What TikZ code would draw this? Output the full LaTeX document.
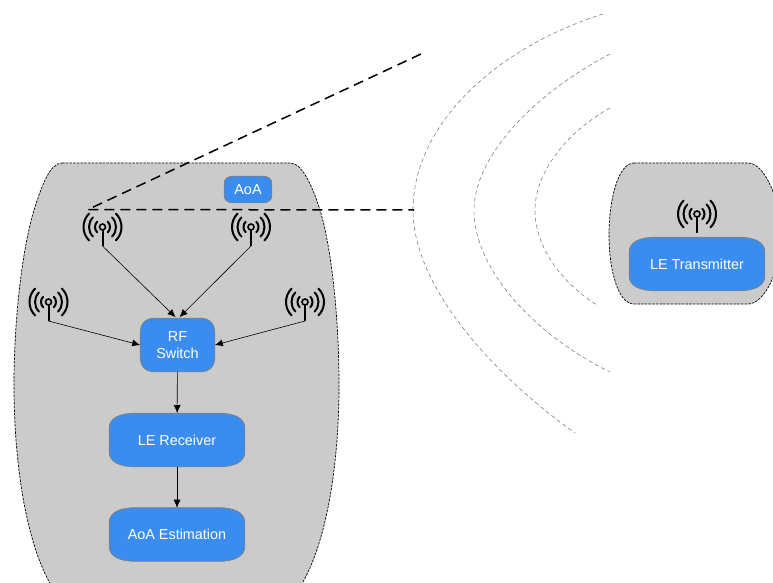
\documentclass[tikz,border=0pt]{standalone}
\usepackage{fontspec}
\setmainfont{Liberation Sans}
\usetikzlibrary{arrows.meta}
\definecolor{panelgray}{HTML}{CBCBCB}
\definecolor{boxblue}{HTML}{3A8DEE}
\newdimen\sbxl \newdimen\sbyl \newdimen\sbxh \newdimen\sbyh \newdimen\sba \newdimen\sbb
\makeatletter
\pgfdeclareshape{softbox}{
  \inheritsavedanchors[from=rectangle]
  \inheritanchorborder[from=rectangle]
  \inheritanchor[from=rectangle]{center}
  \inheritanchor[from=rectangle]{north}
  \inheritanchor[from=rectangle]{south}
  \inheritanchor[from=rectangle]{east}
  \inheritanchor[from=rectangle]{west}
  \backgroundpath{
    \southwest \sbxl=\pgf@x \sbyl=\pgf@y
    \northeast \sbxh=\pgf@x \sbyh=\pgf@y
    \sba=\sbxh \advance\sba by -\sbxl \sba=0.2\sba
    \sbb=\sbyh \advance\sbb by -\sbyl \sbb=0.28\sbb
    \pgfpathmoveto{\pgfpoint{\sbxl}{\sbyl+\sbb}}
    \pgfpathlineto{\pgfpoint{\sbxl}{\sbyh-\sbb}}
    \pgfpathcurveto{\pgfpoint{\sbxl}{\sbyh-0.3\sbb}}{\pgfpoint{\sbxl+0.4\sba}{\sbyh}}{\pgfpoint{\sbxl+\sba}{\sbyh}}
    \pgfpathlineto{\pgfpoint{\sbxh-\sba}{\sbyh}}
    \pgfpathcurveto{\pgfpoint{\sbxh-0.4\sba}{\sbyh}}{\pgfpoint{\sbxh}{\sbyh-0.3\sbb}}{\pgfpoint{\sbxh}{\sbyh-\sbb}}
    \pgfpathlineto{\pgfpoint{\sbxh}{\sbyl+\sbb}}
    \pgfpathcurveto{\pgfpoint{\sbxh}{\sbyl+0.3\sbb}}{\pgfpoint{\sbxh-0.4\sba}{\sbyl}}{\pgfpoint{\sbxh-\sba}{\sbyl}}
    \pgfpathlineto{\pgfpoint{\sbxl+\sba}{\sbyl}}
    \pgfpathcurveto{\pgfpoint{\sbxl+0.4\sba}{\sbyl}}{\pgfpoint{\sbxl}{\sbyl+0.3\sbb}}{\pgfpoint{\sbxl}{\sbyl+\sbb}}
    \pgfpathclose
  }
}
\makeatother
\begin{document}
\begin{tikzpicture}
  [
    x=1pt, y=-1pt,
    panel/.style={fill=panelgray, draw=black, dash pattern=on 2.5pt off 1.2pt, line width=0.7pt},
    box/.style={shape=softbox, draw=gray, fill=boxblue, text=white, font=\fontsize{14.4}{17}\selectfont,
      align=center, inner sep=0pt, line width=0.7pt,
      minimum width=135pt, minimum height=53pt},
    ld/.style={draw=black, line width=0.6pt, -{Latex[length=8pt,width=7pt]}},
    beam/.style={draw=black, line width=1.5pt, dash pattern=on 10pt off 6pt},
    wave/.style={draw=gray, line width=0.6pt, dash pattern=on 4pt off 3pt},
    antenna/.pic={
      \foreach \r in {7.5,13.5,19} {
        \draw [line width=2pt, line cap=round] (45:\r pt) arc [start angle=45, end angle=-45, radius=\r pt];
        \draw [line width=2pt, line cap=round] (135:\r pt) arc [start angle=135, end angle=225, radius=\r pt];
      }
      \draw [line width=1.6pt] (0,0) circle [radius=3pt];
      \draw [line width=2pt] (0,3) -- (0,19);
      \coordinate (-foot) at (0,19);
    }
  ]
  \useasboundingbox (0,0) rectangle (773,583);

  % receiver panel
  \draw [panel] (62,163) -- (290,163)
    .. controls (302,163) and (312,185) .. (320,210)
    .. controls (332,250) and (339,320) .. (339,385)
    .. controls (339,470) and (325,550) .. (298,590)
    -- (54,590)
    .. controls (28,550) and (14,470) .. (14,385)
    .. controls (14,320) and (22,250) .. (34,210)
    .. controls (42,185) and (50,163) .. (62,163);

  % transmitter panel
  \draw [panel] (634,163) -- (748,163)
    .. controls (765,163) and (780,200) .. (782,235)
    .. controls (780,270) and (765,304) .. (748,304)
    -- (634,304)
    .. controls (618,304) and (609,270) .. (609,235)
    .. controls (609,200) and (618,163) .. (634,163);

  % wave fronts
  \coordinate (w1a) at (603,14);  \coordinate (w1b) at (413,210);  \coordinate (w1c) at (575,433);
  \coordinate (w2a) at (610,54);  \coordinate (w2b) at (474,210);  \coordinate (w2c) at (610,372);
  \coordinate (w3a) at (610,108); \coordinate (w3b) at (535,210);  \coordinate (w3c) at (597,305);
  \draw [wave] (w1a) .. controls (495,48) and (413,125) .. (w1b) .. controls (413,290) and (500,380) .. (w1c);
  \draw [wave] (w2a) .. controls (528,97) and (474,160) .. (w2b) .. controls (474,270) and (535,335) .. (w2c);
  \draw [wave] (w3a) .. controls (570,130) and (535,170) .. (w3b) .. controls (535,250) and (565,285) .. (w3c);

  % antennas
  \pic (ant1) at (102.5,227) {antenna};
  \pic (ant2) at (251,227) {antenna};
  \pic (ant3) at (48.5,302) {antenna};
  \pic (ant4) at (305,302) {antenna};
  \pic (ant5) at (697,214) {antenna};

  % blocks
  \node (aoa) at (248,189.5) [box, minimum width=47pt, minimum height=26pt] {AoA};
  \node (rf)  at (177.5,345) [box, minimum width=74pt] {RF\\Switch};
  \node (rx)  at (177,440)   [box] {LE Receiver};
  \node (est) at (177,534.5) [box] {AoA Estimation};
  \node (tx)  at (697,264)   [box] {LE Transmitter};

  % signal paths
  \draw [ld] (ant1-foot) -- ([xshift=-2pt,yshift=1pt]rf.north);
  \draw [ld] (ant2-foot) -- ([xshift=2pt,yshift=1pt]rf.north);
  \draw [ld] (ant3-foot) -- (rf.west);
  \draw [ld] (ant4-foot) -- (rf.east);
  \draw [ld] (rf) -- (rx);
  \draw [ld] (rx) -- (est);

  % angle
  \coordinate (apex) at (88,209.5);
  \coordinate (rayup) at (421,54);
  \coordinate (rayflat) at (414,210);
  \draw [beam] (rayup) -- (apex) -- (rayflat);
\end{tikzpicture}
\end{document}
